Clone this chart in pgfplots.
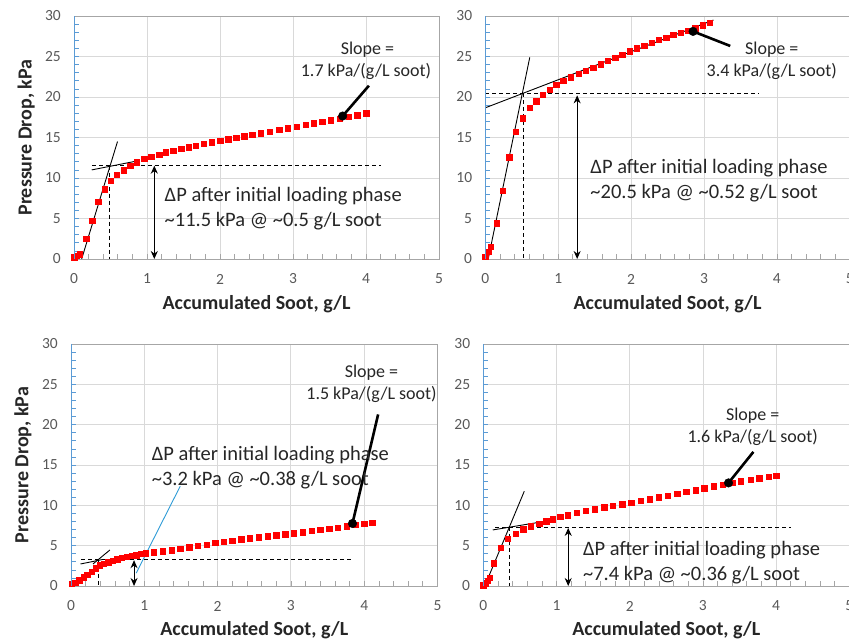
\documentclass[border=0pt]{standalone}
\usepackage{fontspec}
\setmainfont{Carlito}
\usepackage{pgfplots}
\pgfplotsset{compat=1.18}
\usetikzlibrary{arrows.meta}
\definecolor{axblue}{HTML}{5B9BD5}
\definecolor{gridc}{HTML}{D9D9D9}
\definecolor{boxc}{HTML}{A6A6A6}
\definecolor{tickc}{HTML}{595959}
\definecolor{leadblue}{HTML}{2E9BD6}
\definecolor{dred}{HTML}{FF0000}
\pgfplotsset{
 panel/.style={
  scale only axis, xmin=0,xmax=5,ymin=0,ymax=30,
  xtick={0,1,2,3,4,5}, ytick={0,5,10,15,20,25,30},
  minor x tick num=4, minor y tick num=4,
  grid=major, major grid style={draw=gridc, line width=0.8pt},
  axis line style={draw=boxc, line width=0.8pt},
  tick align=inside, xtick pos=bottom, ytick pos=left,
  x tick style={draw=boxc, line width=0.7pt},
  y tick style={draw=axblue, line width=0.7pt},
  major tick length=5pt, minor tick length=5pt,
  /pgf/number format/assume math mode=true,
  tick label style={font=\fontsize{15.5}{18}\selectfont, text=tickc, inner sep=0pt},
  x tick label style={anchor=center, yshift=-20pt},
  y tick label style={anchor=east, xshift=-13pt},
  xlabel={Accumulated Soot, g/L},
  label style={font=\fontsize{20}{24}\selectfont\bfseries, text=black!85},
  x label style={at={(axis description cs:0.5,-0.184)}, anchor=center},
  y label style={at={(axis description cs:-0.131,0.5)}, anchor=center},
  clip=false,
  after end axis/.code={\draw[axblue, line width=1pt] (axis cs:0,0)--(axis cs:0,30);},
 },
 redpts/.style={only marks, mark=square*, mark size=2.7pt, color=dred},
 tline/.style={black, line width=0.9pt, no marks},
 dline/.style={black, line width=0.9pt, dash pattern=on 4pt off 3pt, no marks},
 arr/.style={black, line width=1pt, no marks, {Stealth[length=8pt,width=7pt]}-{Stealth[length=8pt,width=7pt]}},
 ptr/.style={black, line width=2.6pt, no marks},
 dot/.style={black, only marks, mark=*, mark size=4.3pt},
 lead/.style={leadblue, line width=0.9pt, no marks},
}
\tikzset{
 dp/.style={anchor=west, inner sep=0pt, text height=13pt, text depth=0pt, font=\fontsize{20.5}{25}\selectfont, text=black!85},
 sl/.style={anchor=center, inner sep=0pt, text height=11.6pt, text depth=0pt, font=\fontsize{18}{22}\selectfont, text=black!85},
}
\begin{document}
\begin{tikzpicture}
\path[use as bounding box] (0pt,0pt) rectangle (849pt,643pt);
% ---------------- Panel 1 ----------------
\begin{axis}[panel, at={(74pt,384pt)}, anchor=south west, width=365pt, height=243pt, ylabel={Pressure Drop, kPa}]
\addplot[redpts] table {
0.00 0.20
0.04 0.40
0.08 0.60
0.165 2.47
0.248 4.70
0.33 7.08
0.417 8.64
0.505 9.63
0.587 10.40
0.68 10.95
0.77 11.50
0.862 11.93
0.963 12.35
1.055 12.63
1.165 12.88
1.26 13.17
1.36 13.37
1.47 13.58
1.57 13.80
1.67 14.00
1.78 14.20
1.89 14.40
2.00 14.60
2.11 14.78
2.22 14.98
2.33 15.17
2.44 15.37
2.56 15.55
2.68 15.75
2.81 15.95
2.93 16.15
3.05 16.35
3.17 16.55
3.28 16.75
3.40 16.95
3.52 17.15
3.64 17.35
3.76 17.55
3.88 17.75
4.00 18.00
};
\addplot[tline] coordinates {(0.105,0) (0.596,14.5)};
\addplot[tline] coordinates {(0.243,11.0) (0.885,12.14)};
\addplot[dline] coordinates {(0.25,11.52) (4.21,11.52)};
\addplot[dline] coordinates {(0.49,11.52) (0.49,0)};
\addplot[arr] coordinates {(1.1,11.52) (1.1,0)};
\addplot[ptr] coordinates {(3.68,17.65) (4.04,21.4)};
\addplot[dot] coordinates {(3.68,17.65)};
\node[sl] at (axis cs:4.02,26.0) {Slope =};
\node[sl] at (axis cs:4.0,23.3) {1.7 kPa/(g/L soot)};
\node[dp] at (axis cs:1.24,7.9) {ΔP after initial loading phase};
\node[dp] at (axis cs:1.24,4.8) {\textasciitilde11.5 kPa @ \textasciitilde0.5 g/L soot};
\end{axis}
% ---------------- Panel 2 ----------------
\begin{axis}[panel, at={(485.3pt,384pt)}, anchor=south west, width=364.5pt, height=243pt]
\addplot[redpts] table {
0.00 0.30
0.04 0.90
0.07 1.50
0.157 4.40
0.24 8.40
0.326 12.55
0.42 15.70
0.51 17.40
0.61 18.70
0.70 19.50
0.79 20.30
0.88 20.90
0.97 21.50
1.07 22.00
1.17 22.45
1.28 22.85
1.38 23.25
1.48 23.65
1.58 24.05
1.68 24.45
1.78 24.85
1.88 25.25
1.98 25.65
2.08 26.00
2.18 26.35
2.28 26.70
2.38 27.05
2.48 27.35
2.58 27.70
2.68 27.95
2.78 28.20
2.88 28.50
2.98 28.85
3.08 29.20
};
\addplot[tline] coordinates {(0.04,0) (0.61,24.9)};
\addplot[tline] coordinates {(0.01,18.7) (3.13,29.5)};
\addplot[dline] coordinates {(0.0,20.45) (3.75,20.45)};
\addplot[dline] coordinates {(0.52,20.45) (0.52,0)};
\addplot[arr] coordinates {(1.26,20.2) (1.26,0)};
\addplot[ptr] coordinates {(2.85,28.1) (3.36,26.3)};
\addplot[dot] coordinates {(2.85,28.1)};
\node[sl] at (axis cs:3.93,26.0) {Slope =};
\node[sl] at (axis cs:3.93,23.25) {3.4 kPa/(g/L soot)};
\node[dp] at (axis cs:1.44,11.4) {ΔP after initial loading phase};
\node[dp] at (axis cs:1.44,8.3) {\textasciitilde20.5 kPa @ \textasciitilde0.52 g/L soot};
\end{axis}
% ---------------- Panel 3 ----------------
\begin{axis}[panel, at={(71pt,57pt)}, anchor=south west, width=366.5pt, height=242pt, ylabel={Pressure Drop, kPa}]
\addplot[redpts] table {
0.01 0.25
0.055 0.41
0.11 0.74
0.17 1.07
0.22 1.40
0.28 1.77
0.34 2.19
0.39 2.60
0.45 2.80
0.51 2.97
0.57 3.14
0.63 3.30
0.69 3.50
0.76 3.63
0.83 3.76
0.89 3.84
0.955 3.97
1.02 4.05
1.13 4.17
1.25 4.30
1.37 4.45
1.49 4.62
1.61 4.80
1.73 4.97
1.85 5.15
1.97 5.35
2.08 5.50
2.20 5.62
2.32 5.78
2.44 5.92
2.56 6.05
2.68 6.18
2.80 6.30
2.92 6.42
3.04 6.55
3.16 6.68
3.28 6.82
3.40 6.96
3.52 7.10
3.64 7.25
3.76 7.42
3.88 7.58
4.00 7.73
4.11 7.86
};
\addplot[tline] coordinates {(0.30,2.73) (0.53,4.46)};
\addplot[tline] coordinates {(0.13,2.73) (0.44,3.30)};
\addplot[dline] coordinates {(0.14,3.23) (3.83,3.23)};
\addplot[dline] coordinates {(0.37,3.23) (0.37,0)};
\addplot[arr] coordinates {(0.86,3.2) (0.86,0)};
\addplot[lead] coordinates {(1.49,12.37) (0.89,1.6)};
\addplot[ptr] coordinates {(3.84,7.75) (4.19,21.27)};
\addplot[dot] coordinates {(3.84,7.75)};
\node[sl] at (axis cs:4.1,26.55) {Slope =};
\node[sl] at (axis cs:4.1,23.85) {1.5 kPa/(g/L soot)};
\node[dp] at (axis cs:1.1,16.4) {ΔP after initial loading phase};
\node[dp] at (axis cs:1.1,13.3) {\textasciitilde3.2 kPa @ \textasciitilde0.38 g/L soot};
\end{axis}
% ---------------- Panel 4 ----------------
\begin{axis}[panel, at={(483.3pt,57pt)}, anchor=south west, width=366pt, height=242pt]
\addplot[redpts] table {
0.00 0.10
0.03 0.35
0.06 0.65
0.09 1.00
0.146 2.85
0.237 4.72
0.33 5.88
0.44 6.50
0.546 7.03
0.65 7.40
0.765 7.74
0.857 8.03
0.948 8.28
1.05 8.56
1.15 8.77
1.275 9.06
1.40 9.30
1.52 9.52
1.65 9.75
1.77 9.95
1.90 10.15
2.02 10.33
2.15 10.55
2.27 10.77
2.40 11.00
2.52 11.22
2.65 11.45
2.77 11.67
2.90 11.90
3.02 12.10
3.15 12.35
3.27 12.58
3.40 12.80
3.52 13.00
3.65 13.20
3.77 13.38
3.90 13.56
4.00 13.70
};
\addplot[tline] coordinates {(0.02,0) (0.56,11.75)};
\addplot[tline] coordinates {(0.13,6.95) (0.73,7.85)};
\addplot[dline] coordinates {(0.16,7.32) (4.21,7.32)};
\addplot[dline] coordinates {(0.355,7.32) (0.355,0)};
\addplot[arr] coordinates {(1.16,7.2) (1.16,0)};
\addplot[ptr] coordinates {(3.35,12.78) (3.69,16.63)};
\addplot[dot] coordinates {(3.35,12.78)};
\node[sl] at (axis cs:3.68,21.2) {Slope =};
\node[sl] at (axis cs:3.68,18.5) {1.6 kPa/(g/L soot)};
\node[dp] at (axis cs:1.36,4.6) {ΔP after initial loading phase};
\node[dp] at (axis cs:1.36,1.45) {\textasciitilde7.4 kPa @ \textasciitilde0.36 g/L soot};
\end{axis}
\end{tikzpicture}
\end{document}
